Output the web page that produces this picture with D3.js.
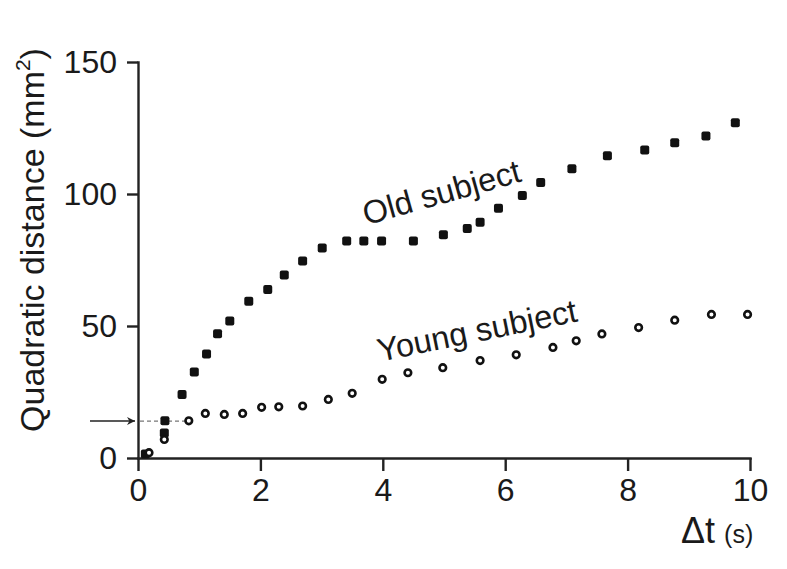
<!DOCTYPE html>
<html lang="en">
<head>
    <meta charset="utf-8">
    <title>Quadratic distance vs time</title>
    <script src="https://d3js.org/d3.v7.min.js"></script>
    <style type="text/css">
        body {
            margin: 0;
            padding: 0;
            background: #fff;
        }
        svg {
            font-family: 'Liberation Sans', Arial, Helvetica, sans-serif;
        }
        .axis path,
        .axis line {
            fill: none;
            stroke: #222;
            stroke-width: 2.4;
        }
        .axis text {
            font-size: 32px;
            fill: #1a1a1a;
        }
    </style>
</head>
<body>
    <svg></svg>
    <script>
        // Werte
        var tOld = [0.12, 0.43, 0.44, 0.72, 0.92, 1.12, 1.30, 1.50, 1.81, 2.12, 2.39, 2.69, 3.01,
            3.41, 3.69, 3.98, 4.50, 4.99, 5.38, 5.59, 5.89, 6.28, 6.58, 7.09, 7.67, 8.28, 8.77, 9.28, 9.76];
        var distOld = [1.5, 9.5, 14.1, 24.1, 32.6, 39.4, 47.1, 51.9, 59.4, 63.8, 69.3, 74.6, 79.5,
            82.2, 82.2, 82.2, 82.2, 84.6, 86.9, 89.3, 94.6, 99.4, 104.4, 109.6, 114.5, 116.7, 119.4, 122.0, 127.0];

        var tYoung = [0.18, 0.43, 0.83, 1.10, 1.41, 1.71, 2.02, 2.30, 2.69, 3.11, 3.50, 3.99,
            4.41, 4.98, 5.59, 6.18, 6.78, 7.16, 7.58, 8.18, 8.77, 9.37, 9.96];
        var distYoung = [2.0, 7.0, 14.1, 16.9, 16.5, 16.9, 19.2, 19.4, 19.7, 22.2, 24.5, 29.8,
            32.3, 34.2, 36.9, 39.1, 41.9, 44.4, 47.0, 49.4, 52.2, 54.4, 54.4];

        var xTicks = [0, 2, 4, 6, 8, 10];
        var yTicks = [0, 50, 100, 150];
        var threshold = 14;   // Pfeil / gestrichelte Linie

        var width = 787, height = 569;

        var svg = d3.select("svg")
            .attr("width", width)
            .attr("height", height);

        var x = d3.scaleLinear().domain([0, 10]).range([138, 750]);
        var y = d3.scaleLinear().domain([0, 150]).range([458, 62]);

        // X-Achse
        svg.append("g")
            .attr("class", "x axis")
            .attr("transform", "translate(0," + y(0) + ")")
            .call(d3.axisBottom(x).tickValues(xTicks).tickSize(13).tickSizeOuter(0).tickPadding(7));

        // Y-Achse
        svg.append("g")
            .attr("class", "y axis")
            .attr("transform", "translate(" + x(0) + ",0)")
            .call(d3.axisLeft(y).tickValues(yTicks).tickSize(11).tickSizeOuter(0).tickPadding(10));

        svg.selectAll(".axis .domain").attr("stroke-linecap", "square");

        // Y-Beschriftung
        var ylab = svg.append("text")
            .attr("transform", "translate(44," + 240 + ") rotate(-90)")
            .attr("text-anchor", "middle")
            .style("font-size", "34px")
            .style("fill", "#1a1a1a");
        ylab.append("tspan").text("Quadratic distance (mm");
        ylab.append("tspan").attr("dy", -14).style("font-size", "21px").text("2");
        ylab.append("tspan").attr("dy", 14).text(")");

        // X-Beschriftung
        var xlab = svg.append("text")
            .attr("x", 681)
            .attr("y", 543)
            .style("fill", "#1a1a1a");
        xlab.append("tspan").style("font-size", "36px").text("\u0394t");
        xlab.append("tspan").attr("dx", 9).style("font-size", "25px").text("(s)");

        // Pfeil und gestrichelte Linie
        svg.append("defs").append("marker")
            .attr("id", "arrow")
            .attr("viewBox", "0 0 10 10")
            .attr("refX", 10).attr("refY", 5)
            .attr("markerWidth", 14).attr("markerHeight", 8)
            .attr("markerUnits", "userSpaceOnUse")
            .attr("orient", "auto")
            .append("path")
            .attr("d", "M0,0 L10,5 L0,10 L3,5 Z")
            .attr("fill", "#222");

        svg.append("line")
            .attr("x1", x(0) - 48).attr("x2", x(0) - 3)
            .attr("y1", y(threshold)).attr("y2", y(threshold))
            .attr("stroke", "#222").attr("stroke-width", 1.6)
            .attr("marker-end", "url(#arrow)");

        svg.append("line")
            .attr("x1", x(0) + 2).attr("x2", x(0.78))
            .attr("y1", y(threshold)).attr("y2", y(threshold))
            .attr("stroke", "#777").attr("stroke-width", 1.2)
            .attr("stroke-dasharray", "4,3");

        // Alte Person: gefuellte Quadrate
        var old = tOld.map(function (t, i) { return { t: t, d: distOld[i] }; });
        svg.selectAll(".old")
            .data(old)
            .enter().append("rect")
            .attr("class", "old")
            .attr("x", function (d) { return x(d.t) - 4.5; })
            .attr("y", function (d) { return y(d.d) - 4.5; })
            .attr("width", 9).attr("height", 9)
            .attr("rx", 2)
            .attr("fill", "#111");

        // Junge Person: offene Kreise
        var young = tYoung.map(function (t, i) { return { t: t, d: distYoung[i] }; });
        svg.selectAll(".young")
            .data(young)
            .enter().append("circle")
            .attr("class", "young")
            .attr("cx", function (d) { return x(d.t); })
            .attr("cy", function (d) { return y(d.d); })
            .attr("r", 3.3)
            .attr("fill", "#fff")
            .attr("stroke", "#111")
            .attr("stroke-width", 2.6);

        // Serienbeschriftungen
        svg.append("text")
            .attr("transform", "translate(" + x(3.73) + "," + y(88.2) + ") rotate(-15.7)")
            .style("font-size", "32.5px")
            .style("fill", "#1a1a1a")
            .text("Old subject");

        svg.append("text")
            .attr("transform", "translate(" + x(3.95) + "," + y(36.5) + ") rotate(-11.5)")
            .style("font-size", "32.5px")
            .style("fill", "#1a1a1a")
            .text("Young subject");
    </script>
</body>
</html>
